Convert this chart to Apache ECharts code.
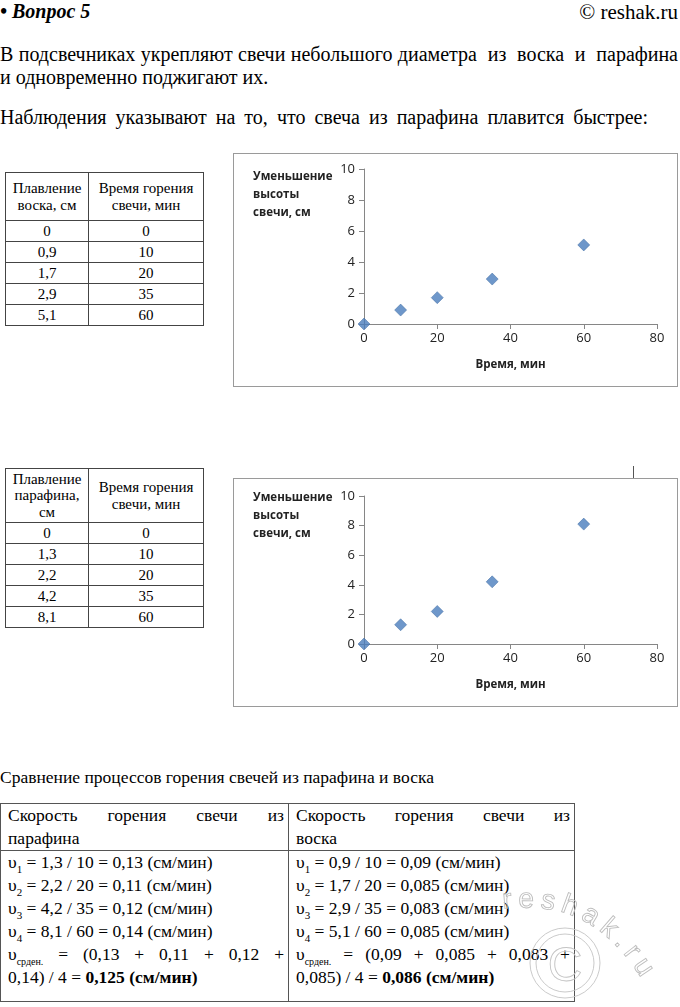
<!DOCTYPE html>
<html><head><meta charset="utf-8">
<script src="https://cdn.jsdelivr.net/npm/echarts@6/dist/echarts.min.js"></script>
<style>
html,body{margin:0;padding:0;background:#fff;}
body{width:680px;height:1007px;position:relative;overflow:hidden;font-family:"Liberation Serif","DejaVu Serif",serif;color:#000;}
.abs{position:absolute;}
.p{font-size:20px;line-height:23px;text-align:justify;text-align-last:justify;}
table{font-family:"Liberation Serif","DejaVu Serif",serif;}
table.d{border-collapse:collapse;font-size:15px;line-height:16.5px;}
table.d td{border:1px solid #444;text-align:center;padding:0;}
table.b{border-collapse:collapse;font-size:17.5px;line-height:23px;}
table.b td{border:1px solid #555;vertical-align:top;padding:0 4px 0 7px;text-align:justify;}
.j{text-align:justify;text-align-last:justify;}
.chart{position:absolute;border:1px solid #9a9a9a;box-sizing:border-box;}
sub{font-size:11px;line-height:0;}
</style></head>
<body>
<div class="abs" style="left:0;top:0px;font-size:20px;font-weight:bold;font-style:italic;">• Вопрос 5</div>
<div class="abs" style="right:2px;top:0px;font-size:21px;">© reshak.ru</div>
<div class="abs p" style="left:0;top:43px;width:678px;">В подсвечниках укрепляют свечи небольшого диаметра &nbsp;из &nbsp;воска &nbsp;и &nbsp;парафина</div>
<div class="abs" style="left:0;top:66px;font-size:20px;line-height:23px;">и одновременно поджигают их.</div>
<div class="abs p" style="left:0;top:106px;width:648px;">Наблюдения указывают на то, что свеча из парафина плавится быстрее:</div>

<div id="t1" class="abs" style="left:5px;top:172px;"></div>
<div id="t2" class="abs" style="left:5px;top:468px;"></div>

<div id="c1" class="chart" style="left:233px;top:153px;width:445px;height:234px;"></div>
<div class="abs" style="left:633px;top:466px;width:1px;height:12px;background:#555;"></div>
<div id="c2" class="chart" style="left:233px;top:478px;width:445px;height:229px;"></div>

<div class="abs" style="left:0;top:766px;font-size:17.5px;line-height:23px;">Сравнение процессов горения свечей из парафина и воска</div>
<div class="abs" style="left:0;top:803px;">
<table class="b">
<tr><td style="width:276px;height:46px;"><div class="j">Скорость горения свечи из</div><div>парафина</div></td><td style="width:274px;"><div class="j">Скорость горения свечи из</div><div>воска</div></td></tr>
<tr><td style="height:150px;" id="pc"></td><td id="wc"></td></tr>
</table></div>

<svg class="abs" style="left:0;top:0;pointer-events:none;" width="680" height="1007">
  <defs><path id="arc" d="M 503 909 C 560 903, 610 915, 656 1004"/></defs>
  <text font-family="Liberation Sans, sans-serif" font-size="28" fill="none" stroke="#bdbdbd" stroke-width="0.9" letter-spacing="6">
    <textPath href="#arc">reshak.ru</textPath>
  </text>
  <circle cx="565" cy="963" r="35" fill="none" stroke="#c4c4c4" stroke-width="0.9"/>
  <circle cx="565" cy="963" r="29" fill="none" stroke="#c4c4c4" stroke-width="0.9"/>
  <text x="565" y="981" text-anchor="middle" font-family="Liberation Sans, sans-serif" font-size="48" fill="none" stroke="#c4c4c4" stroke-width="0.9">C</text>
</svg>

<script>
// Data
var times = [0, 10, 20, 35, 60];
var waxMelt = [0, 0.9, 1.7, 2.9, 5.1];
var paraffinMelt = [0, 1.3, 2.2, 4.2, 8.1];
var waxLabels = ['0', '0,9', '1,7', '2,9', '5,1'];
var paraffinLabels = ['0', '1,3', '2,2', '4,2', '8,1'];
var xTicks = [0, 20, 40, 60, 80];
var yTicks = [0, 2, 4, 6, 8, 10];
var paraffinRates = ['1,3 / 10 = 0,13', '2,2 / 20 = 0,11', '4,2 / 35 = 0,12', '8,1 / 60 = 0,14'];
var waxRates = ['0,9 / 10 = 0,09', '1,7 / 20 = 0,085', '2,9 / 35 = 0,083', '5,1 / 60 = 0,085'];

function buildTable(el, head, labels) {
  var h = '<table class="d"><tr><td style="width:82px;height:' + (head.h) + 'px;">' + head.a + '</td><td style="width:114px;">Время горения<br>свечи, мин</td></tr>';
  for (var i = 0; i < labels.length; i++) {
    h += '<tr><td style="height:20px;">' + labels[i] + '</td><td>' + times[i] + '</td></tr>';
  }
  h += '</table>';
  document.getElementById(el).innerHTML = h;
}
buildTable('t1', {a: 'Плавление<br>воска, см', h: 47}, waxLabels);
buildTable('t2', {a: 'Плавление<br>парафина,<br>см', h: 53}, paraffinLabels);

function rateCell(id, rates, avgLine, avg) {
  var h = '';
  for (var i = 0; i < rates.length; i++) {
    h += '<div style="text-align:left;">υ<sub>' + (i + 1) + '</sub> = ' + rates[i] + ' (см/мин)</div>';
  }
  h += '<div class="j">υ<sub style="font-size:10px;">срден.</sub> = ' + avgLine + '</div>';
  h += '<div style="text-align:left;">' + avg + '</div>';
  document.getElementById(id).innerHTML = h;
}
rateCell('pc', paraffinRates, '(0,13 + 0,11 + 0,12 +', '0,14) / 4 = <b>0,125 (см/мин)</b>');
rateCell('wc', waxRates, '(0,09 + 0,085 + 0,083 +', '0,085) / 4 = <b>0,086 (см/мин)</b>');

function makeChart(id, ys, gridTop, gridH, labelTop) {
  var c = echarts.init(document.getElementById(id), null, {renderer: 'canvas'});
  var axisCol = '#868686';
  var fnt = '"Open Sans","Liberation Sans",sans-serif';
  c.setOption({
    animation: false,
    grid: {left: 130, top: gridTop, width: 293, height: gridH},
    xAxis: {
      type: 'value', min: 0, max: 80, interval: 20,
      axisLine: {lineStyle: {color: axisCol}},
      axisTick: {show: true, length: 5, lineStyle: {color: axisCol}},
      splitLine: {show: false},
      axisLabel: {color: '#222', fontSize: 13, fontFamily: fnt, margin: 8},
      name: 'Время, мин', nameLocation: 'middle', nameGap: 35,
      nameTextStyle: {color: '#222', fontSize: 11.5, fontWeight: 'bold', fontFamily: fnt}
    },
    yAxis: {
      type: 'value', min: 0, max: 10, interval: 2,
      axisLine: {show: true, lineStyle: {color: axisCol}},
      axisTick: {show: true, length: 5, lineStyle: {color: axisCol}},
      splitLine: {show: false},
      axisLabel: {color: '#222', fontSize: 13, fontFamily: fnt, margin: 9}
    },
    graphic: [{
      type: 'text', left: 19, top: labelTop,
      style: {text: 'Уменьшение\nвысоты\nсвечи, см', fill: '#222', font: 'bold 11.5px ' + fnt, lineHeight: 18, align: 'center', width: 80}
    }],
    series: [{
      type: 'scatter', symbol: 'diamond', symbolSize: 12,
      itemStyle: {color: '#4a7dbd', borderColor: '#3a679e', borderWidth: 0.6},
      data: times.map(function (t, i) { return [t, ys[i]]; })
    }]
  });
}
makeChart('c1', waxMelt, 15, 155, 14);
makeChart('c2', paraffinMelt, 17, 148, 10);
</script>
</body></html>
